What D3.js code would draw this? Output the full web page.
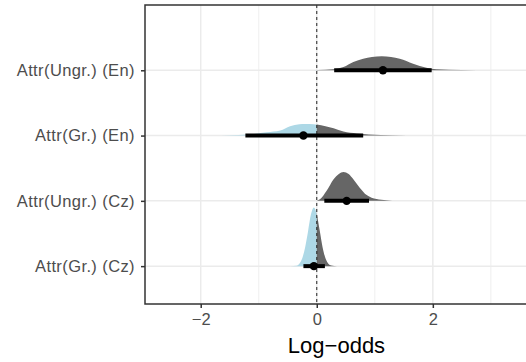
<!DOCTYPE html>
<html>
<head>
<meta charset="utf-8">
<script src="https://cdn.jsdelivr.net/npm/d3@7"></script>
<style>
  body { margin: 0; background: #fff; }
  text { font-family: "Liberation Sans", Arial, sans-serif; }
</style>
</head>
<body>
<svg id="chart"></svg>
<script>
const W = 526, H = 362;

// rows, bottom to top
const rows = ["Attr(Gr.) (Cz)", "Attr(Ungr.) (Cz)", "Attr(Gr.) (En)", "Attr(Ungr.) (En)"];
const medians = [-0.05, 0.515, -0.23, 1.14];
const lower = [-0.23, 0.13, -1.23, 0.30];
const upper = [0.14, 0.90, 0.80, 1.98];

// posterior density profiles: [log-odds, density]
const densGrCz = [[-0.45,0],[-0.35,0.03],[-0.30,0.17],[-0.25,0.54],[-0.20,1.29],[-0.15,2.37],[-0.10,3.53],[-0.05,4.0],
  [0.0,3.53],[0.05,2.44],[0.10,1.29],[0.15,0.54],[0.20,0.17],[0.25,0.05],[0.35,0]];
const densUngrCz = [[0.0,0],[0.06,0.12],[0.17,0.68],[0.29,1.47],[0.38,1.83],[0.46,1.97],[0.55,1.83],[0.63,1.47],
  [0.74,0.90],[0.86,0.39],[1.03,0.12],[1.2,0.04],[1.4,0]];
const densGrEn = [[-2.2,0],[-1.8,0.01],[-1.5,0.03],[-1.2,0.07],[-0.86,0.22],[-0.63,0.34],[-0.46,0.63],[-0.3,0.77],
  [-0.2,0.79],[-0.05,0.77],[0.0,0.75],[0.15,0.63],[0.29,0.49],[0.46,0.27],[0.69,0.14],[0.9,0.07],[1.3,0.03],[1.8,0.01],[2.2,0]];
const densUngrEn = [[-0.1,0],[0.02,0.02],[0.28,0.07],[0.46,0.22],[0.63,0.56],[0.80,0.79],[0.95,0.90],[1.12,0.95],
  [1.28,0.90],[1.43,0.79],[1.66,0.45],[1.89,0.18],[2.06,0.07],[2.5,0.02],[3.0,0.003],[3.3,0]];
const densities = [densGrCz, densUngrCz, densGrEn, densUngrEn];

const xTicks = [-2, 0, 2];
const xMinor = [-1, 1, 3];

const margin = {left: 145, right: -2, top: 5, bottom: 58};
const pl = margin.left, pr = W - margin.right, pt = margin.top, pb = H - margin.bottom;

const svg = d3.select("#chart").attr("width", W).attr("height", H);

const x = d3.scaleLinear().domain([-2.96, 3.64]).range([pl, pr]);
const y = d3.scaleLinear().domain([-0.58, 4.0]).range([pb, pt]);
const maxD = d3.max(densities.flat(), d => d[1]);
const slab = d3.scaleLinear().domain([0, maxD]).range([0, 0.9]);

const defs = svg.append("defs");
defs.append("clipPath").attr("id", "neg").append("rect")
  .attr("x", pl).attr("y", pt).attr("width", x(0) - pl).attr("height", pb - pt);
defs.append("clipPath").attr("id", "pos").append("rect")
  .attr("x", x(0)).attr("y", pt).attr("width", pr - x(0)).attr("height", pb - pt);

// grid
const grid = svg.append("g");
grid.selectAll("line.minor").data(xMinor).enter().append("line")
  .attr("x1", d => x(d)).attr("x2", d => x(d)).attr("y1", pt).attr("y2", pb)
  .attr("stroke", "#EBEBEB").attr("stroke-width", 0.8);
grid.selectAll("line.major").data(xTicks).enter().append("line")
  .attr("x1", d => x(d)).attr("x2", d => x(d)).attr("y1", pt).attr("y2", pb)
  .attr("stroke", "#EBEBEB").attr("stroke-width", 1.5);
grid.selectAll("line.row").data(rows).enter().append("line")
  .attr("x1", pl).attr("x2", pr).attr("y1", (d, i) => y(i)).attr("y2", (d, i) => y(i))
  .attr("stroke", "#EBEBEB").attr("stroke-width", 1.5);

// slabs
const area = i => d3.area()
  .x(d => x(d[0]))
  .y0(y(i))
  .y1(d => y(i + slab(d[1])))
  .curve(d3.curveMonotoneX);

[["neg", "#ADD8E6"], ["pos", "#666666"]].forEach(([clip, col]) => {
  svg.append("g").attr("clip-path", `url(#${clip})`)
    .selectAll("path").data(densities).enter().append("path")
    .attr("d", (d, i) => area(i)(d))
    .attr("fill", col);
});

// reference line at 0
svg.append("line")
  .attr("x1", x(0)).attr("x2", x(0)).attr("y1", pt).attr("y2", pb)
  .attr("stroke", "#222").attr("stroke-width", 1).attr("stroke-dasharray", "3,3");

// intervals and medians
svg.append("g").selectAll("line").data(rows).enter().append("line")
  .attr("x1", (d, i) => x(lower[i])).attr("x2", (d, i) => x(upper[i]))
  .attr("y1", (d, i) => y(i)).attr("y2", (d, i) => y(i))
  .attr("stroke", "#000").attr("stroke-width", 4);
svg.append("g").selectAll("circle").data(rows).enter().append("circle")
  .attr("cx", (d, i) => x(medians[i])).attr("cy", (d, i) => y(i)).attr("r", 4.2)
  .attr("fill", "#000");

// panel border
svg.append("rect").attr("x", pl).attr("y", pt).attr("width", pr - pl).attr("height", pb - pt)
  .attr("fill", "none").attr("stroke", "#333333").attr("stroke-width", 1.5);

// axes
const xAxis = svg.append("g").attr("transform", `translate(0,${pb})`)
  .call(d3.axisBottom(x).tickValues(xTicks).tickSize(4).tickPadding(5)
    .tickFormat(d => d < 0 ? "\u2212" + Math.abs(d) : d));
xAxis.select(".domain").remove();
xAxis.selectAll(".tick line").attr("stroke", "#333333").attr("stroke-width", 1.5);
xAxis.selectAll(".tick text").attr("fill", "#4D4D4D").attr("font-size", 16.5);

const yAxis = svg.append("g").attr("transform", `translate(${pl},0)`)
  .call(d3.axisLeft(y).tickValues(d3.range(rows.length)).tickSize(4).tickPadding(6)
    .tickFormat(i => rows[i]));
yAxis.select(".domain").remove();
yAxis.selectAll(".tick line").attr("stroke", "#333333").attr("stroke-width", 1.5);
yAxis.selectAll(".tick text").attr("fill", "#4D4D4D").attr("font-size", 16.5)
  .attr("letter-spacing", 0.4);

svg.append("text")
  .attr("x", (pl + pr) / 2).attr("y", 353)
  .attr("text-anchor", "middle").attr("font-size", 22).attr("fill", "#000")
  .text("Log\u2212odds");
</script>
</body>
</html>
